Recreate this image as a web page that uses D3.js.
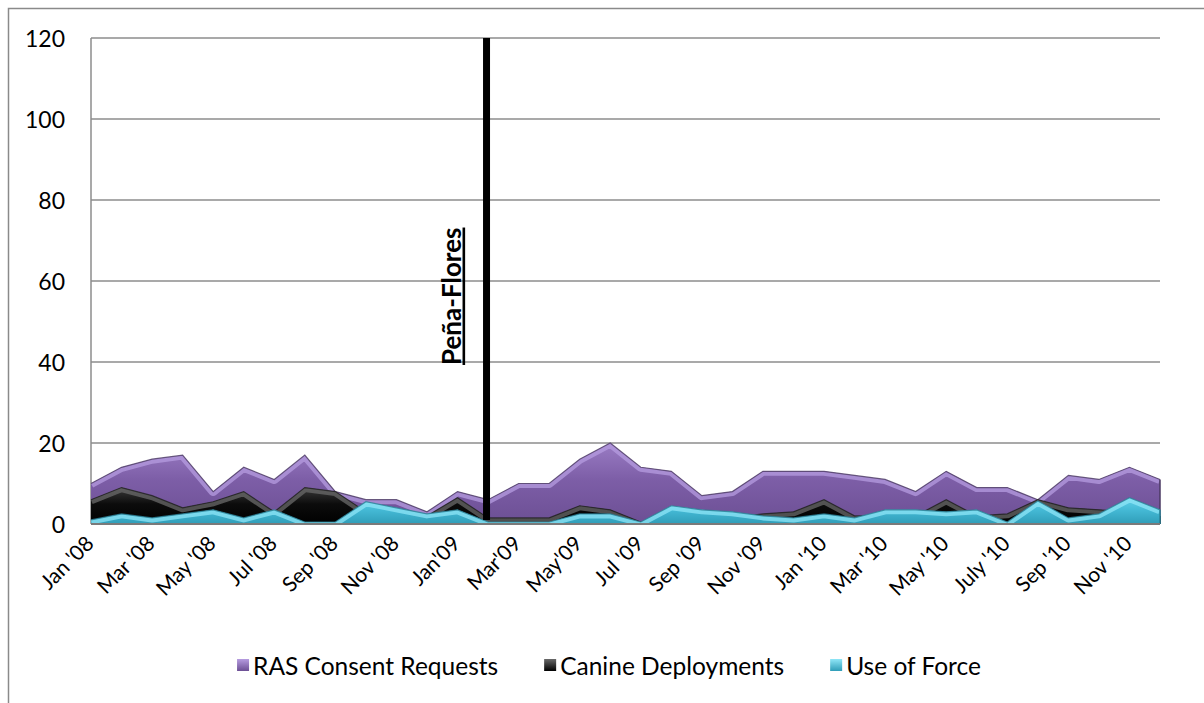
<!DOCTYPE html>
<html>
<head>
<meta charset="utf-8">
<script src="https://cdn.jsdelivr.net/npm/d3@7/dist/d3.min.js"></script>
<style>
  html, body { margin: 0; padding: 0; background: #fff; }
  svg { display: block; }
  text { font-family: Lato, "Noto Sans", sans-serif; fill: #000; }
</style>
</head>
<body>
<svg id="chart" width="1204" height="703"></svg>
<script>
// Monthly categories, Jan 2008 – Dec 2010
const categories = [
  "Jan '08","Feb '08","Mar '08","Apr '08","May '08","Jun '08",
  "Jul '08","Aug '08","Sep '08","Oct '08","Nov '08","Dec '08",
  "Jan'09","Feb'09","Mar'09","Apr'09","May'09","Jun '09",
  "Jul '09","Aug '09","Sep '09","Oct '09","Nov '09","Dec '09",
  "Jan '10","Feb '10","Mar '10","Apr '10","May '10","Jun '10",
  "July '10","Aug '10","Sep '10","Oct '10","Nov '10","Dec '10"
];

// Series values per month
const rasConsent = [10, 14, 16, 17, 8, 14, 11, 17, 8, 6, 6, 3,
                    8, 6, 10, 10, 16, 20, 14, 13, 7, 8, 13, 13,
                    13, 12, 11, 8, 13, 9, 9, 6, 12, 11, 14, 11];
const canine     = [6, 9, 7, 4, 5.5, 8, 3, 9, 8, 3, 2, 2,
                    6.5, 1.5, 1.5, 1.5, 4.5, 3.5, 0.5, 1, 1, 1.5, 2.5, 3,
                    6, 2, 2, 2, 6, 2, 2.5, 6, 4, 3.5, 3, 2];
const useOfForce = [1, 2.5, 1.5, 2.5, 3.5, 1.5, 3.5, 0.5, 0.5, 5.5, 4, 2.5,
                    3.5, 0.5, 0.5, 0.5, 2.5, 2.5, 0.5, 4.5, 3.5, 3, 2, 1.5,
                    2.5, 1.5, 3.5, 3.5, 3, 3.5, 0.5, 5.7, 1.5, 2.5, 6.5, 3.5];

const seriesNames = ["RAS Consent Requests", "Canine Deployments", "Use of Force"];
const yTicks = [0, 20, 40, 60, 80, 100, 120];

// Position (in months from Jan '08) of the Peña-Flores marker
const markerMonth = 12.95;
const markerLabel = "Peña-Flores";

const svg = d3.select("#chart");
const margin = { left: 91, right: 44, top: 38, bottom: 179 };
const W = 1204, H = 703;
const plotW = W - margin.left - margin.right;
const plotH = H - margin.top - margin.bottom;

const x = d3.scaleLinear().domain([0, categories.length - 1]).range([margin.left, margin.left + plotW]);
const y = d3.scaleLinear().domain([0, 120]).range([margin.top + plotH, margin.top]);

// Chart frame (top and left edges)
svg.append("path")
  .attr("d", `M8.5,${H} V8.5 H${W}`)
  .attr("fill", "none").attr("stroke", "#8a8a8a").attr("stroke-width", 1.5);

// Styles for each series: gradient stops, bevel highlight and edge colour
const styles = [
  { top: "#9a7cc4", mid: "#7d5ea7", bot: "#6c4f94", hi: "#b69ce0", edge: "#4b3a63" },
  { top: "#3a3a3a", mid: "#0c0c0c", bot: "#000000", hi: "#6a6a6a", edge: "#222" },
  { top: "#63d2ea", mid: "#45bad6", bot: "#2f9db8", hi: "#8fe6f7", edge: "#2a7f95" }
];
const seriesData = [rasConsent, canine, useOfForce];

const defs = svg.append("defs");
styles.forEach((s, i) => {
  const g = defs.append("linearGradient")
    .attr("id", "grad" + i).attr("x1", 0).attr("y1", 0).attr("x2", 0).attr("y2", 1);
  g.append("stop").attr("offset", "0%").attr("stop-color", s.top);
  g.append("stop").attr("offset", "45%").attr("stop-color", s.mid);
  g.append("stop").attr("offset", "100%").attr("stop-color", s.bot);
  const lg = defs.append("linearGradient")
    .attr("id", "lgrad" + i).attr("x1", 0).attr("y1", 0).attr("x2", 0).attr("y2", 1);
  lg.append("stop").attr("offset", "0%").attr("stop-color", s.hi);
  lg.append("stop").attr("offset", "100%").attr("stop-color", s.bot);
});

// Gridlines
const grid = svg.append("g");
grid.selectAll("line").data(yTicks.filter(t => t > 0)).join("line")
  .attr("x1", margin.left).attr("x2", margin.left + plotW)
  .attr("y1", d => y(d)).attr("y2", d => y(d))
  .attr("stroke", "#8c8c8c").attr("stroke-width", 1.5);

// Plot area left edge
svg.append("line")
  .attr("x1", margin.left).attr("x2", margin.left)
  .attr("y1", y(120)).attr("y2", y(0))
  .attr("stroke", "#8c8c8c").attr("stroke-width", 1.5);

// Areas (first series at the back)
const area = d3.area().x((d, i) => x(i)).y0(y(0)).y1(d => y(d));
const topLine = d3.line().x((d, i) => x(i)).y(d => y(d));

const layers = svg.append("g");
seriesData.forEach((vals, i) => {
  const s = styles[i];
  defs.append("clipPath").attr("id", "clip" + i)
    .append("path").attr("d", area(vals));
  const g = layers.append("g");
  g.append("path").attr("d", area(vals)).attr("fill", `url(#grad${i})`);
  // bevel highlight along the top edge
  g.append("path").attr("d", topLine(vals))
    .attr("clip-path", `url(#clip${i})`)
    .attr("fill", "none").attr("stroke", s.hi).attr("stroke-opacity", 0.75)
    .attr("stroke-width", 9).attr("stroke-linejoin", "round");
  g.append("path").attr("d", topLine(vals))
    .attr("fill", "none").attr("stroke", s.edge).attr("stroke-opacity", 0.8)
    .attr("stroke-width", 1.2);
  // right end edge
  g.append("line")
    .attr("x1", x(vals.length - 1)).attr("x2", x(vals.length - 1))
    .attr("y1", y(vals[vals.length - 1])).attr("y2", y(0))
    .attr("stroke", s.edge).attr("stroke-width", 1.5);
});

// Category axis line
svg.append("line")
  .attr("x1", margin.left).attr("x2", margin.left + plotW)
  .attr("y1", y(0)).attr("y2", y(0))
  .attr("stroke", "#7a7a7a").attr("stroke-width", 2);

// Y axis labels
svg.append("g").selectAll("text").data(yTicks).join("text")
  .attr("x", 65).attr("y", d => y(d))
  .attr("text-anchor", "end").attr("dominant-baseline", "central")
  .attr("font-size", 23)
  .text(d => d);

// X axis labels, every other month
const xLabels = categories.map((c, i) => ({ c, i })).filter(d => d.i % 2 === 0);
svg.append("g").selectAll("text").data(xLabels).join("text")
  .attr("transform", d => `translate(${x(d.i) + 4},${y(0) + 21}) rotate(-45)`)
  .attr("text-anchor", "end")
  .attr("font-size", 21)
  .text(d => d.c);

// Peña-Flores marker line and label
svg.append("line")
  .attr("x1", x(markerMonth)).attr("x2", x(markerMonth))
  .attr("y1", y(120)).attr("y2", y(0) - 4)
  .attr("stroke", "#000").attr("stroke-width", 7);
svg.append("text")
  .attr("transform", `translate(${x(markerMonth) - 26},365) rotate(-90)`)
  .attr("font-size", 26).attr("font-weight", "bold")
  .attr("text-decoration", "underline")
  .text(markerLabel);

// Legend: swatch + label items laid out in a centred row
const legend = svg.append("g").attr("transform", "translate(0,665)");
const swatch = 12, swatchGap = 4, itemGap = 46;
const items = seriesNames.map((name, i) => {
  const g = legend.append("g");
  g.append("rect").attr("x", 0).attr("y", -6).attr("width", swatch).attr("height", swatch)
    .attr("fill", `url(#lgrad${i})`);
  const t = g.append("text").attr("x", swatch + swatchGap).attr("y", 0)
    .attr("dominant-baseline", "central").attr("font-size", 24.5)
    .text(name);
  return { g, w: swatch + swatchGap + t.node().getComputedTextLength() };
});
const totalW = d3.sum(items, d => d.w) + itemGap * (items.length - 1);
let cx = 609 - totalW / 2;
items.forEach(it => {
  it.g.attr("transform", `translate(${cx},0)`);
  cx += it.w + itemGap;
});
</script>
</body>
</html>
